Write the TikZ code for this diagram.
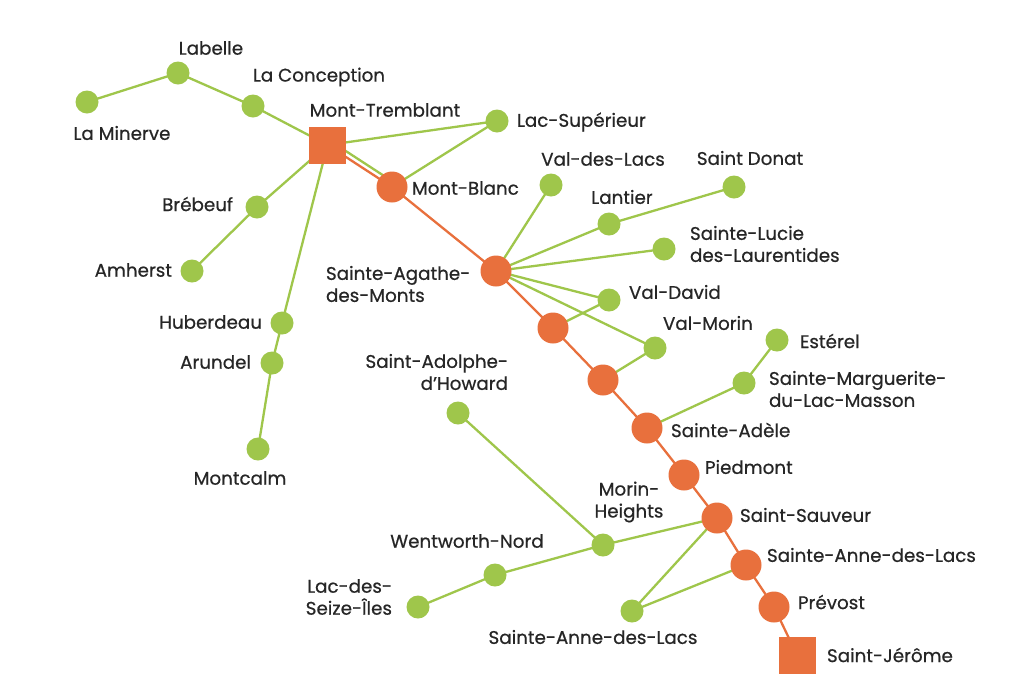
\documentclass[tikz,border=0pt]{standalone}
\usepackage{fontspec}
\setmainfont{Poppins}[FakeBold=0.6]
\begin{document}
\begin{tikzpicture}[x=1pt,y=-1pt,
  every node/.style={inner sep=0pt,outer sep=0pt},
  onode/.style={circle,fill=orng,minimum size=31pt},
  osq/.style={rectangle,fill=orng,minimum size=37pt},
  gnode/.style={circle,fill=grn,minimum size=23pt},
  gline/.style={draw=grn,line width=2.3pt},
  oline/.style={draw=orng,line width=2.3pt},
  lbl/.style={text=txt,font=\fontsize{18.3}{22}\selectfont}
]
\definecolor{orng}{HTML}{E8703D}
\definecolor{grn}{HTML}{9FC64B}
\definecolor{txt}{HTML}{262626}
\useasboundingbox (0,0) rectangle (1024,697);
\fill[white] (0,0) rectangle (1024,697);

% orange chain nodes
\coordinate (MTc) at (327.5,145);
\coordinate (MBc) at (392,187);
\coordinate (SAGc) at (496,271);
\coordinate (C2c) at (553,328);
\coordinate (C3c) at (603,380);
\coordinate (SADc) at (647,428);
\coordinate (PIEc) at (684,475);
\coordinate (SSc) at (717,518);
\coordinate (SALOc) at (746,565);
\coordinate (PREc) at (774,607);
\coordinate (SJc) at (797,655);

% green nodes
\coordinate (LMc) at (87,102);
\coordinate (LABc) at (178,73);
\coordinate (LCc) at (253,106);
\coordinate (LSc) at (497,121);
\coordinate (VDLc) at (551,185);
\coordinate (SDc) at (734,187);
\coordinate (LANc) at (609,224);
\coordinate (SLc) at (664,249);
\coordinate (VDc) at (609,300);
\coordinate (VMc) at (655,348);
\coordinate (ESc) at (777,340);
\coordinate (SMc) at (744,383);
\coordinate (BRc) at (257,207);
\coordinate (AMc) at (192,271);
\coordinate (HUc) at (282,323);
\coordinate (ARc) at (272,363);
\coordinate (MCc) at (258,449);
\coordinate (SAHc) at (458,413);
\coordinate (MHc) at (603,545);
\coordinate (WNc) at (495,575);
\coordinate (LSIc) at (418,607);
\coordinate (SALGc) at (632,611);

% edges (drawn first, under the nodes)
\draw[gline] (LMc) -- (LABc) -- (LCc) -- (MTc);
\draw[gline] (MTc) -- (LSc);
\draw[gline,transform canvas={shift={(2.6,-4.2)}}] (MTc) -- (MBc);
\draw[gline] (MBc) -- (LSc);
\draw[gline] (MTc) -- (BRc) -- (AMc);
\draw[gline] (MTc) -- (HUc) -- (ARc) -- (MCc);
\draw[gline] (SAGc) -- (VDLc);
\draw[gline] (SAGc) -- (LANc) -- (SDc);
\draw[gline] (SAGc) -- (SLc);
\draw[gline] (SAGc) -- (VDc) -- (C2c);
\draw[gline] (SAGc) -- (VMc) -- (C3c);
\draw[gline] (SADc) -- (SMc) -- (ESc);
\draw[gline] (SAHc) -- (MHc);
\draw[gline] (SSc) -- (MHc) -- (WNc) -- (LSIc);
\draw[gline] (SSc) -- (SALGc) -- (SALOc);
\draw[oline] (MTc) -- (MBc) -- (SAGc) -- (C2c) -- (C3c) -- (SADc) -- (PIEc) -- (SSc) -- (SALOc) -- (PREc) -- (SJc);

% shapes
\node[osq] (MT) at (MTc) {};
\node[onode] (MB) at (MBc) {};
\node[onode] (SAG) at (SAGc) {};
\node[onode] (C2) at (C2c) {};
\node[onode] (C3) at (C3c) {};
\node[onode] (SAD) at (SADc) {};
\node[onode] (PIE) at (PIEc) {};
\node[onode] (SS) at (SSc) {};
\node[onode] (SALO) at (SALOc) {};
\node[onode] (PRE) at (PREc) {};
\node[osq] (SJ) at (SJc) {};

\foreach \n in {LM,LAB,LC,LS,VDL,SD,LAN,SL,VD,VM,ES,SM,BR,AM,HU,AR,MC,SAH,MH,WN,LSI,SALG}
  \node[gnode] (\n) at (\n c) {};

% labels
\node[lbl] (tLM) at (122,133) {La Minerve};
\node[lbl] (tLAB) at (211,48) {Labelle};
\node[lbl] (tLC) at (319,77) {La Conception};
\node[lbl] (tMT) at (385,110) {Mont-Tremblant};
\node[lbl,anchor=west] (tLS) at (517,122) {Lac-Supérieur};
\node[lbl,anchor=west] (tMB) at (412,188) {Mont-Blanc};
\node[lbl] (tVDL) at (603,159) {Val-des-Lacs};
\node[lbl] (tSD) at (750,158) {Saint Donat};
\node[lbl] (tLAN) at (622,197) {Lantier};
\node[lbl,anchor=west,align=left] (tSL) at (690,244) {Sainte-Lucie\\des-Laurentides};
\node[lbl,anchor=west] (tVD) at (629,292) {Val-David};
\node[lbl,anchor=west] (tVM) at (663,323) {Val-Morin};
\node[lbl,anchor=west] (tES) at (800,341) {Estérel};
\node[lbl,anchor=west,align=left] (tSM) at (769,389) {Sainte-Marguerite-\\du-Lac-Masson};
\node[lbl,anchor=west,align=left] (tSAG) at (326,284) {Sainte-Agathe-\\des-Monts};
\node[lbl,anchor=west] (tSAD) at (671,430) {Sainte-Adèle};
\node[lbl,anchor=west] (tPIE) at (705,467) {Piedmont};
\node[lbl,anchor=west] (tSS) at (740,515) {Saint-Sauveur};
\node[lbl,anchor=west] (tSALO) at (767,555) {Sainte-Anne-des-Lacs};
\node[lbl,anchor=west] (tPRE) at (798,602) {Prévost};
\node[lbl,anchor=west] (tSJ) at (827,655) {Saint-Jérôme};
\node[lbl,anchor=east] (tBR) at (233,204) {Brébeuf};
\node[lbl,anchor=east] (tAM) at (172,270) {Amherst};
\node[lbl,anchor=east] (tHU) at (262,322) {Huberdeau};
\node[lbl,anchor=east] (tAR) at (251,362) {Arundel};
\node[lbl] (tMC) at (240,478) {Montcalm};
\node[lbl,anchor=east,align=right] (tSAH) at (508,372) {Saint-Adolphe-\\d'Howard};
\node[lbl,align=center] (tMH) at (629,502) {Morin-\\Heights};
\node[lbl] (tWN) at (467,541) {Wentworth-Nord};
\node[lbl,anchor=east,align=right] (tLSI) at (392,597) {Lac-des-\\Seize-Îles};
\node[lbl] (tSALG) at (593,637) {Sainte-Anne-des-Lacs};
\end{tikzpicture}
\end{document}
